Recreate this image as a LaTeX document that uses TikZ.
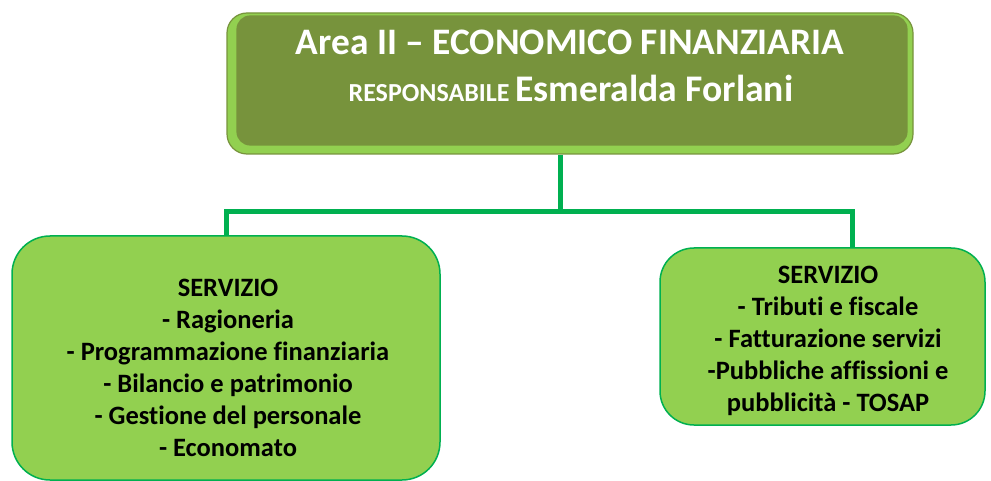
\documentclass[tikz,border=0pt]{standalone}
\usepackage{fontspec}
\setmainfont{Carlito}[Ligatures=NoCommon]
\usetikzlibrary{positioning}
\definecolor{leafgreen}{HTML}{92D050}
\definecolor{olivegreen}{HTML}{77933C}
\definecolor{linkgreen}{HTML}{00B050}
\tikzset{
  areabox/.style={draw=olivegreen, line width=1.2pt, fill=leafgreen, rounded corners=20pt,
    minimum width=686pt, minimum height=141pt},
  areatext/.style={font=\bfseries, text=white, anchor=base, inner sep=0pt},
  servbox/.style={draw=linkgreen, line width=1.5pt, fill=leafgreen, rounded corners=38pt},
  link/.style={draw=linkgreen, line width=5pt},
  servtext/.style={font=\fontsize{26.5}{32}\selectfont\bfseries, align=center, text=black}
}
\begin{document}
\begin{tikzpicture}[x=1pt,y=-1pt]
\useasboundingbox (0,0) rectangle (991,481);
% area box
\node[areabox] (area) at (570,83.5) {};
\fill[olivegreen, rounded corners=14pt] ([shift={(10,3)}]area.north west) rectangle ([shift={(-6,-9)}]area.south east);
\node[areatext, font=\bfseries\fontsize{37.4}{40}\selectfont] (areatitle) at (570,55)
  {Area II – ECONOMICO FINANZIARIA};
\node[areatext] (areaboss) at (571,102)
  {\fontsize{26}{30}\selectfont RESPONSABILE \fontsize{37.6}{40}\selectfont Esmeralda Forlani};
% servizi
\node[servbox, minimum width=428pt, minimum height=244pt] (ragioneria) at (226,358) {};
\node[servbox, minimum width=325pt, minimum height=177pt, rounded corners=34pt] (tributi) at (822.5,336.5) {};
\node[servtext] (ragtxt) at (228,368) {SERVIZIO\\- Ragioneria\\- Programmazione finanziaria\\
  - Bilancio e patrimonio\\- Gestione del personale\\- Economato};
\node[servtext] (tribtxt) at (828,341) {SERVIZIO\\- Tributi e fiscale\\- Fatturazione servizi\\
  -Pubbliche affissioni e\\pubblicità - TOSAP};
% connectors
\coordinate (hub) at (560,212);
\coordinate (rtee) at (852,212);
\draw[link] (area.south -| hub) -- (hub);
\draw[link] (ragioneria.north) |- (rtee) -- (rtee |- tributi.north);
\end{tikzpicture}
\end{document}
